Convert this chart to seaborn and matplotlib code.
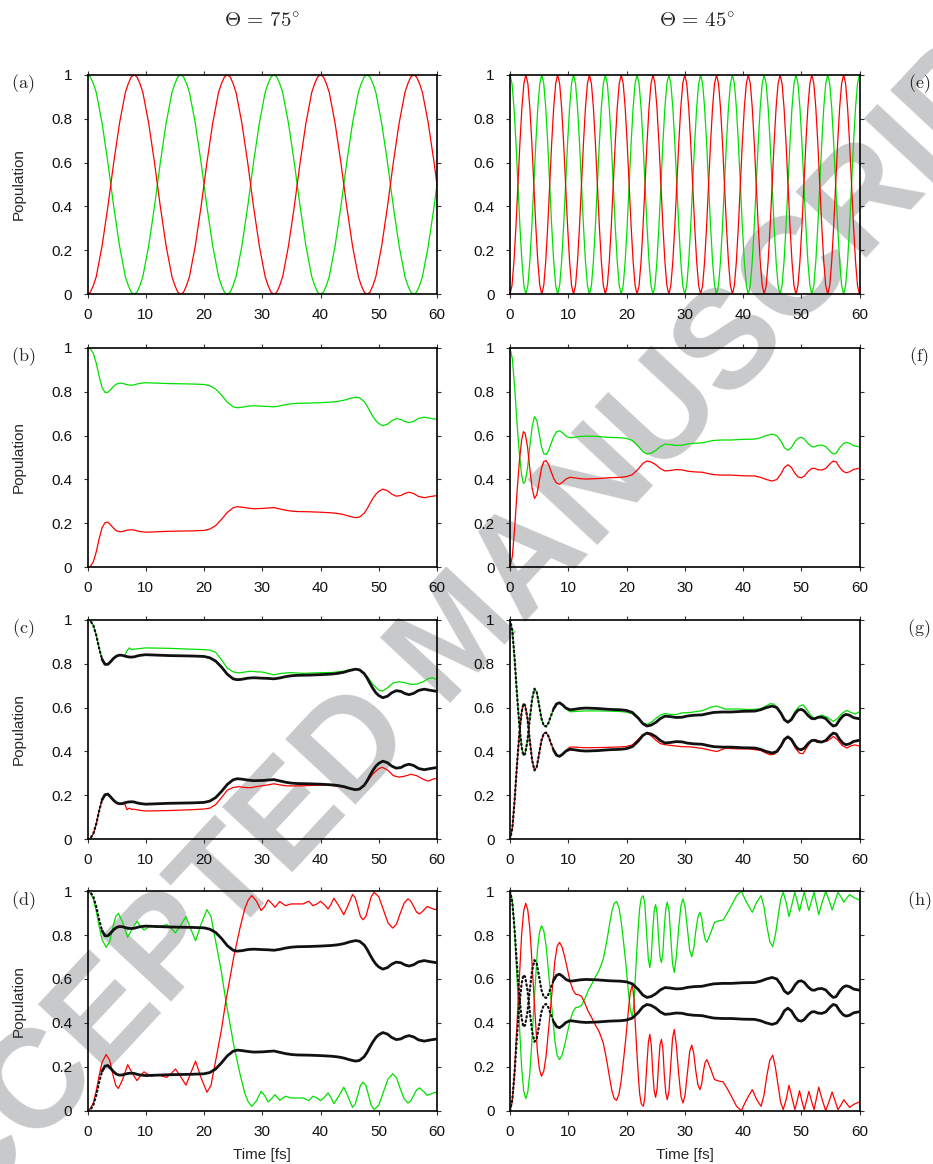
import numpy as np
import pandas as pd
import matplotlib
matplotlib.use('Agg')
import matplotlib.pyplot as plt
from matplotlib.ticker import FormatStrFormatter
import seaborn as sns

# ---------------- data ----------------
# (a) Theta = 75 deg, two-level Rabi oscillation, sampled every 0.5 fs
t_a = np.linspace(0, 60, 121)
red_a = [0.0, 0.01, 0.04, 0.08, 0.15, 0.22, 0.31, 0.4, 0.5, 0.6, 0.69, 0.78, 0.85, 0.92, 0.96, 0.99,
         1.0, 0.99, 0.96, 0.92, 0.85, 0.78, 0.69, 0.6, 0.5, 0.4, 0.31, 0.22, 0.15, 0.08, 0.04, 0.01,
         0.0, 0.01, 0.04, 0.08, 0.15, 0.22, 0.31, 0.4, 0.5, 0.6, 0.69, 0.78, 0.85, 0.92, 0.96, 0.99,
         1.0, 0.99, 0.96, 0.92, 0.85, 0.78, 0.69, 0.6, 0.5, 0.4, 0.31, 0.22, 0.15, 0.08, 0.04, 0.01,
         0.0, 0.01, 0.04, 0.08, 0.15, 0.22, 0.31, 0.4, 0.5, 0.6, 0.69, 0.78, 0.85, 0.92, 0.96, 0.99,
         1.0, 0.99, 0.96, 0.92, 0.85, 0.78, 0.69, 0.6, 0.5, 0.4, 0.31, 0.22, 0.15, 0.08, 0.04, 0.01,
         0.0, 0.01, 0.04, 0.08, 0.15, 0.22, 0.31, 0.4, 0.5, 0.6, 0.69, 0.78, 0.85, 0.92, 0.96, 0.99,
         1.0, 0.99, 0.96, 0.92, 0.85, 0.78, 0.69, 0.6, 0.5]
green_a = [1.0, 0.99, 0.96, 0.92, 0.85, 0.78, 0.69, 0.6, 0.5, 0.4, 0.31, 0.22, 0.15, 0.08, 0.04, 0.01,
           0.0, 0.01, 0.04, 0.08, 0.15, 0.22, 0.31, 0.4, 0.5, 0.6, 0.69, 0.78, 0.85, 0.92, 0.96, 0.99,
           1.0, 0.99, 0.96, 0.92, 0.85, 0.78, 0.69, 0.6, 0.5, 0.4, 0.31, 0.22, 0.15, 0.08, 0.04, 0.01,
           0.0, 0.01, 0.04, 0.08, 0.15, 0.22, 0.31, 0.4, 0.5, 0.6, 0.69, 0.78, 0.85, 0.92, 0.96, 0.99,
           1.0, 0.99, 0.96, 0.92, 0.85, 0.78, 0.69, 0.6, 0.5, 0.4, 0.31, 0.22, 0.15, 0.08, 0.04, 0.01,
           0.0, 0.01, 0.04, 0.08, 0.15, 0.22, 0.31, 0.4, 0.5, 0.6, 0.69, 0.78, 0.85, 0.92, 0.96, 0.99,
           1.0, 0.99, 0.96, 0.92, 0.85, 0.78, 0.69, 0.6, 0.5, 0.4, 0.31, 0.22, 0.15, 0.08, 0.04, 0.01,
           0.0, 0.01, 0.04, 0.08, 0.15, 0.22, 0.31, 0.4, 0.5]

# (e) Theta = 45 deg, faster Rabi oscillation (11 periods in 60 fs)
t_e = np.linspace(0, 60, 177)
red_e = [0.0, 0.04, 0.15, 0.31, 0.5, 0.69, 0.85, 0.96, 1.0, 0.96, 0.85, 0.69, 0.5, 0.31, 0.15, 0.04,
         0.0, 0.04, 0.15, 0.31, 0.5, 0.69, 0.85, 0.96, 1.0, 0.96, 0.85, 0.69, 0.5, 0.31, 0.15, 0.04,
         0.0, 0.04, 0.15, 0.31, 0.5, 0.69, 0.85, 0.96, 1.0, 0.96, 0.85, 0.69, 0.5, 0.31, 0.15, 0.04,
         0.0, 0.04, 0.15, 0.31, 0.5, 0.69, 0.85, 0.96, 1.0, 0.96, 0.85, 0.69, 0.5, 0.31, 0.15, 0.04,
         0.0, 0.04, 0.15, 0.31, 0.5, 0.69, 0.85, 0.96, 1.0, 0.96, 0.85, 0.69, 0.5, 0.31, 0.15, 0.04,
         0.0, 0.04, 0.15, 0.31, 0.5, 0.69, 0.85, 0.96, 1.0, 0.96, 0.85, 0.69, 0.5, 0.31, 0.15, 0.04,
         0.0, 0.04, 0.15, 0.31, 0.5, 0.69, 0.85, 0.96, 1.0, 0.96, 0.85, 0.69, 0.5, 0.31, 0.15, 0.04,
         0.0, 0.04, 0.15, 0.31, 0.5, 0.69, 0.85, 0.96, 1.0, 0.96, 0.85, 0.69, 0.5, 0.31, 0.15, 0.04,
         0.0, 0.04, 0.15, 0.31, 0.5, 0.69, 0.85, 0.96, 1.0, 0.96, 0.85, 0.69, 0.5, 0.31, 0.15, 0.04,
         0.0, 0.04, 0.15, 0.31, 0.5, 0.69, 0.85, 0.96, 1.0, 0.96, 0.85, 0.69, 0.5, 0.31, 0.15, 0.04,
         0.0, 0.04, 0.15, 0.31, 0.5, 0.69, 0.85, 0.96, 1.0, 0.96, 0.85, 0.69, 0.5, 0.31, 0.15, 0.04,
         0.0]
green_e = [1.0, 0.96, 0.85, 0.69, 0.5, 0.31, 0.15, 0.04, 0.0, 0.04, 0.15, 0.31, 0.5, 0.69, 0.85, 0.96,
           1.0, 0.96, 0.85, 0.69, 0.5, 0.31, 0.15, 0.04, 0.0, 0.04, 0.15, 0.31, 0.5, 0.69, 0.85, 0.96,
           1.0, 0.96, 0.85, 0.69, 0.5, 0.31, 0.15, 0.04, 0.0, 0.04, 0.15, 0.31, 0.5, 0.69, 0.85, 0.96,
           1.0, 0.96, 0.85, 0.69, 0.5, 0.31, 0.15, 0.04, 0.0, 0.04, 0.15, 0.31, 0.5, 0.69, 0.85, 0.96,
           1.0, 0.96, 0.85, 0.69, 0.5, 0.31, 0.15, 0.04, 0.0, 0.04, 0.15, 0.31, 0.5, 0.69, 0.85, 0.96,
           1.0, 0.96, 0.85, 0.69, 0.5, 0.31, 0.15, 0.04, 0.0, 0.04, 0.15, 0.31, 0.5, 0.69, 0.85, 0.96,
           1.0, 0.96, 0.85, 0.69, 0.5, 0.31, 0.15, 0.04, 0.0, 0.04, 0.15, 0.31, 0.5, 0.69, 0.85, 0.96,
           1.0, 0.96, 0.85, 0.69, 0.5, 0.31, 0.15, 0.04, 0.0, 0.04, 0.15, 0.31, 0.5, 0.69, 0.85, 0.96,
           1.0, 0.96, 0.85, 0.69, 0.5, 0.31, 0.15, 0.04, 0.0, 0.04, 0.15, 0.31, 0.5, 0.69, 0.85, 0.96,
           1.0, 0.96, 0.85, 0.69, 0.5, 0.31, 0.15, 0.04, 0.0, 0.04, 0.15, 0.31, 0.5, 0.69, 0.85, 0.96,
           1.0, 0.96, 0.85, 0.69, 0.5, 0.31, 0.15, 0.04, 0.0, 0.04, 0.15, 0.31, 0.5, 0.69, 0.85, 0.96,
           1.0]

# (b) Theta = 75 deg, exact result (also the black curves of c and d)
t_b = [0, 0.5, 1, 1.5, 2, 2.5, 3, 3.5, 4, 4.5, 5, 5.5, 6, 6.5, 7, 7.5, 8, 8.5, 9, 10,
       12, 14, 16, 18, 20, 21, 22, 23, 24, 25, 25.7, 26.5, 27.5, 28.5, 30, 31, 32, 33, 34, 35,
       36, 38, 40, 42, 43, 44, 45, 46, 46.7, 47.5, 48, 48.5, 49, 49.5, 50, 50.7, 51.5, 52.2, 53, 53.8,
       54.5, 55.2, 56, 56.8, 57.8, 58.8, 60]
green_b = [1.0, 0.995, 0.975, 0.93, 0.87, 0.82, 0.797, 0.797, 0.81, 0.825,
           0.835, 0.839, 0.838, 0.834, 0.831, 0.83, 0.831, 0.835, 0.838, 0.841,
           0.839, 0.837, 0.836, 0.835, 0.833, 0.827, 0.812, 0.785, 0.752, 0.731,
           0.727, 0.729, 0.734, 0.736, 0.734, 0.733, 0.731, 0.735, 0.741, 0.745,
           0.747, 0.748, 0.75, 0.753, 0.756, 0.761, 0.769, 0.775, 0.772, 0.755,
           0.735, 0.71, 0.687, 0.668, 0.655, 0.645, 0.652, 0.667, 0.677, 0.674,
           0.664, 0.659, 0.665, 0.678, 0.684, 0.679, 0.674]
red_b = [0.0, 0.005, 0.025, 0.07, 0.13, 0.18, 0.203, 0.206, 0.192, 0.177,
         0.166, 0.162, 0.163, 0.167, 0.17, 0.171, 0.17, 0.166, 0.163, 0.16,
         0.162, 0.164, 0.165, 0.166, 0.168, 0.174, 0.19, 0.218, 0.25, 0.271,
         0.276, 0.274, 0.27, 0.267, 0.268, 0.27, 0.272, 0.266, 0.26, 0.256,
         0.254, 0.253, 0.251, 0.248, 0.245, 0.24, 0.232, 0.226, 0.229, 0.246,
         0.266, 0.291, 0.314, 0.333, 0.346, 0.356, 0.349, 0.334, 0.324, 0.327,
         0.337, 0.342, 0.336, 0.323, 0.317, 0.322, 0.327]

# (f) Theta = 45 deg, exact result (also the black curves of g and h)
t_f = [0, 0.4, 0.8, 1.2, 1.6, 2.0, 2.3, 2.6, 3.0, 3.4,
       3.8, 4.2, 4.6, 5.0, 5.4, 5.8, 6.2, 6.6, 7.0, 7.5,
       8.0, 8.5, 9.0, 9.6, 10.3, 11, 12, 13, 15, 17,
       19, 20, 21, 22, 22.8, 23.5, 24.2, 25, 25.8, 26.6,
       27.5, 28.5, 29.5, 30.5, 31.5, 33, 34, 35, 36.5, 38,
       40, 42, 43, 44, 45, 45.8, 46.5, 47.1, 47.7, 48.3,
       49, 49.5, 50, 50.5, 51.2, 51.8, 52.3, 52.8, 53.5, 54.2,
       55, 55.5, 56, 56.6, 57.2, 57.7, 58.3, 59, 60]
green_f = [1.0, 0.95, 0.82, 0.66, 0.52, 0.42, 0.382, 0.39, 0.45, 0.55,
           0.64, 0.686, 0.67, 0.61, 0.55, 0.518, 0.514, 0.53, 0.56, 0.595,
           0.617, 0.622, 0.613, 0.598, 0.59, 0.592, 0.596, 0.598, 0.596, 0.592,
           0.59, 0.587, 0.578, 0.553, 0.527, 0.516, 0.52, 0.532, 0.55, 0.561,
           0.559, 0.555, 0.556, 0.562, 0.565, 0.567, 0.573, 0.578, 0.58, 0.58,
           0.583, 0.584, 0.59, 0.6, 0.607, 0.6, 0.575, 0.545, 0.533, 0.545,
           0.575, 0.589, 0.592, 0.585, 0.563, 0.55, 0.549, 0.555, 0.557, 0.55,
           0.527, 0.516, 0.52, 0.545, 0.563, 0.569, 0.565, 0.554, 0.549]
red_f = [0.0, 0.05, 0.18, 0.34, 0.48, 0.58, 0.618, 0.61, 0.55, 0.45,
         0.36, 0.314, 0.33, 0.39, 0.45, 0.482, 0.486, 0.47, 0.44, 0.405,
         0.383, 0.378, 0.387, 0.402, 0.41, 0.408, 0.404, 0.402, 0.404, 0.408,
         0.41, 0.413, 0.422, 0.447, 0.473, 0.484, 0.48, 0.468, 0.45, 0.439,
         0.441, 0.445, 0.444, 0.438, 0.435, 0.433, 0.427, 0.422, 0.42, 0.42,
         0.417, 0.416, 0.41, 0.4, 0.393, 0.4, 0.425, 0.455, 0.467, 0.455,
         0.425, 0.411, 0.408, 0.415, 0.437, 0.45, 0.451, 0.445, 0.443, 0.45,
         0.473, 0.484, 0.48, 0.455, 0.437, 0.431, 0.435, 0.446, 0.451]

# (c) Theta = 75 deg, approximate method 1
t_c = [0, 0.5, 1, 1.5, 2, 2.5, 3, 3.5, 4, 4.5,
       5, 5.5, 6, 6.4, 6.8, 7.2, 7.6, 8, 9, 10,
       12, 14, 16, 18, 20, 21, 22, 23, 24, 25,
       26, 27, 28, 29, 30, 31, 32, 33, 34, 35,
       37, 40, 42, 44, 45, 46, 47, 48, 49, 50,
       50.6, 51.5, 52.5, 53.5, 54.5, 55.5, 56.5, 57.5, 58.5, 59.3, 60]
green_c = [1.0, 0.995, 0.975, 0.93, 0.87, 0.82, 0.797, 0.797, 0.81, 0.825,
           0.835, 0.839, 0.838, 0.836, 0.86, 0.872, 0.864, 0.866, 0.869, 0.872,
           0.871, 0.87, 0.868, 0.866, 0.864, 0.862, 0.852, 0.818, 0.78, 0.763,
           0.758, 0.762, 0.766, 0.763, 0.762, 0.756, 0.749, 0.755, 0.758, 0.759,
           0.756, 0.759, 0.76, 0.766, 0.773, 0.776, 0.768, 0.742, 0.705, 0.68,
           0.675, 0.69, 0.713, 0.718, 0.713, 0.706, 0.707, 0.716, 0.732, 0.736, 0.727]
red_c = [0.0, 0.005, 0.025, 0.07, 0.13, 0.18, 0.203, 0.206, 0.192, 0.177,
         0.166, 0.162, 0.162, 0.16, 0.135, 0.142, 0.136, 0.137, 0.132, 0.129,
         0.13, 0.131, 0.133, 0.135, 0.138, 0.142, 0.158, 0.19, 0.224, 0.236,
         0.24, 0.236, 0.235, 0.24, 0.244, 0.248, 0.253, 0.248, 0.244, 0.243,
         0.244, 0.247, 0.245, 0.238, 0.232, 0.225, 0.235, 0.262, 0.298, 0.322,
         0.328, 0.316, 0.29, 0.283, 0.288, 0.296, 0.29, 0.275, 0.265, 0.274, 0.278]

# (d) Theta = 75 deg, approximate method 2
t_d = [0, 0.5, 1, 1.5, 2, 2.5, 3.2, 3.8, 4.4, 4.85,
       5.3, 6.0, 6.9, 7.7, 8.5, 9.1, 9.7, 10.4, 11.0, 11.9,
       12.8, 13.6, 14.4, 15.1, 16.0, 16.9, 17.7, 18.55, 19.5, 20.5,
       21.2, 21.8, 22.2, 23, 23.75, 24.5, 25.1, 26.2, 27, 27.6,
       28.2, 29, 29.8, 30.4, 31, 31.6, 32.2, 32.6, 33, 34,
       35, 37, 38, 38.7, 39.4, 40, 40.7, 41.3, 41.8, 42.3,
       43.1, 44, 44.8, 45.5, 45.95, 46.4, 46.85, 47.3, 47.8, 48.25,
       48.7, 49.2, 50.0, 50.8, 51.6, 52.4, 53.05, 53.7, 54.35, 55,
       55.5, 56, 56.5, 57, 57.6, 58.3, 59, 59.7, 60]
green_d = [1.0, 0.99, 0.965, 0.91, 0.84, 0.78, 0.744, 0.77, 0.84, 0.885,
           0.899, 0.86, 0.79, 0.83, 0.863, 0.84, 0.823, 0.835, 0.843, 0.835,
           0.842, 0.848, 0.83, 0.81, 0.845, 0.884, 0.83, 0.774, 0.85, 0.916,
           0.885, 0.8, 0.744, 0.63, 0.5, 0.39, 0.3, 0.165, 0.08, 0.04,
           0.02, 0.045, 0.088, 0.07, 0.04, 0.055, 0.073, 0.06, 0.047, 0.066,
           0.058, 0.058, 0.046, 0.066, 0.058, 0.046, 0.062, 0.081, 0.06, 0.032,
           0.065, 0.107, 0.06, 0.015, 0.03, 0.07, 0.115, 0.13, 0.115, 0.07,
           0.025, 0.005, 0.025, 0.085, 0.145, 0.168, 0.15, 0.1, 0.055, 0.035,
           0.045, 0.07, 0.095, 0.104, 0.09, 0.07, 0.077, 0.084, 0.081]
red_d = [0.0, 0.01, 0.035, 0.09, 0.16, 0.22, 0.256, 0.23, 0.16, 0.115,
         0.101, 0.14, 0.21, 0.17, 0.137, 0.16, 0.177, 0.165, 0.157, 0.165,
         0.158, 0.152, 0.17, 0.19, 0.155, 0.116, 0.17, 0.226, 0.15, 0.084,
         0.115, 0.2, 0.256, 0.37, 0.5, 0.61, 0.7, 0.835, 0.92, 0.96,
         0.98, 0.955, 0.912, 0.93, 0.96, 0.945, 0.927, 0.94, 0.953, 0.934,
         0.942, 0.942, 0.954, 0.934, 0.942, 0.954, 0.938, 0.919, 0.94, 0.968,
         0.935, 0.893, 0.94, 0.985, 0.97, 0.93, 0.885, 0.87, 0.885, 0.93,
         0.975, 0.995, 0.975, 0.915, 0.855, 0.832, 0.85, 0.9, 0.945, 0.965,
         0.955, 0.93, 0.905, 0.896, 0.91, 0.93, 0.923, 0.916, 0.919]

# (g) Theta = 45 deg, approximate method 1
t_g = [0, 0.4, 0.8, 1.2, 1.6, 2.0, 2.3, 2.6, 3.0, 3.4,
       3.8, 4.2, 4.6, 5.0, 5.4, 5.8, 6.2, 6.6, 7.0, 7.5,
       8.0, 8.5, 9.0, 9.6, 10.3, 11, 13, 15, 17, 19,
       20, 21, 22, 22.8, 23.5, 24.2, 25, 25.8, 26.6, 27.5,
       28.5, 29.5, 31, 33, 34.5, 35.5, 37, 39, 41, 43,
       44, 44.7, 45.3, 46, 46.6, 47.2, 47.7, 48.3, 49, 49.7,
       50.3, 51, 51.6, 52.3, 52.9, 53.5, 54.5, 55.5, 56.2, 57,
       57.8, 58.5, 59.2, 60]
green_g = [1.0, 0.95, 0.82, 0.66, 0.52, 0.42, 0.382, 0.39, 0.45, 0.55,
           0.64, 0.686, 0.67, 0.61, 0.55, 0.518, 0.514, 0.53, 0.56, 0.595,
           0.617, 0.622, 0.613, 0.595, 0.581, 0.582, 0.585, 0.585, 0.584, 0.582,
           0.579, 0.572, 0.55, 0.53, 0.524, 0.532, 0.55, 0.566, 0.573, 0.569,
           0.568, 0.576, 0.578, 0.586, 0.602, 0.607, 0.593, 0.594, 0.591, 0.594,
           0.608, 0.618, 0.616, 0.598, 0.572, 0.545, 0.535, 0.552, 0.585, 0.607,
           0.613, 0.59, 0.565, 0.55, 0.56, 0.566, 0.556, 0.537, 0.55, 0.574,
           0.587, 0.578, 0.571, 0.58]
red_g = [0.0, 0.05, 0.18, 0.34, 0.48, 0.58, 0.618, 0.61, 0.55, 0.45,
         0.36, 0.314, 0.33, 0.39, 0.45, 0.482, 0.486, 0.47, 0.44, 0.405,
         0.383, 0.378, 0.387, 0.405, 0.42, 0.42, 0.417, 0.418, 0.419, 0.421,
         0.423, 0.43, 0.455, 0.476, 0.482, 0.472, 0.453, 0.436, 0.431, 0.428,
         0.425, 0.422, 0.421, 0.414, 0.405, 0.4, 0.415, 0.412, 0.412, 0.405,
         0.392, 0.385, 0.387, 0.4, 0.425, 0.452, 0.465, 0.45, 0.415, 0.392,
         0.39, 0.42, 0.445, 0.455, 0.45, 0.443, 0.448, 0.468, 0.455, 0.428,
         0.416, 0.425, 0.43, 0.425]

# (h) Theta = 45 deg, approximate method 2
t_h = [0, 0.35, 0.7, 1.0, 1.35, 1.7, 2.0, 2.35, 2.7, 3.05,
       3.4, 3.7, 4.05, 4.4, 4.7, 5.05, 5.4, 5.8, 6.2, 6.55,
       6.95, 7.35, 7.7, 8.1, 8.5, 8.95, 9.4, 9.85, 10.3, 10.8,
       11.3, 11.8, 12.3, 12.85, 13.4, 14, 14.6, 15.3, 16, 16.6,
       17.1, 17.5, 17.9, 18.3, 18.7, 19.05, 19.4, 19.85, 20.3, 20.65,
       21, 21.25, 21.5, 21.75, 22, 22.25, 22.5, 22.7, 22.9, 23.15,
       23.45, 23.75, 24, 24.25, 24.5, 24.75, 25, 25.25, 25.5, 25.75,
       26, 26.25, 26.5, 26.75, 27, 27.3, 27.6, 27.9, 28.2, 28.55,
       28.95, 29.35, 29.7, 30.05, 30.45, 30.85, 31.2, 31.55, 31.9, 32.25,
       32.6, 32.9, 33.2, 33.5, 33.8, 34.45, 35.1, 35.85, 36.6, 37.3,
       38, 38.9, 39.7, 40.6, 41.6, 42.35, 43.1, 43.6, 44.1, 44.6,
       45.1, 45.55, 46, 46.45, 46.9, 47.4, 47.9, 48.4, 48.9, 49.3,
       49.7, 50.1, 50.5, 50.9, 51.3, 51.75, 52.2, 52.6, 53, 53.6,
       54.2, 54.75, 55.3, 55.8, 56.3, 56.8, 57.3, 57.8, 58.3, 59.1, 60]
green_h = [1.0, 0.964, 0.862, 0.71, 0.527, 0.347, 0.195, 0.09, 0.055, 0.085,
           0.17, 0.29, 0.45, 0.6, 0.73, 0.81, 0.843, 0.82, 0.75, 0.65,
           0.54, 0.42, 0.32, 0.25, 0.233, 0.255, 0.3, 0.355, 0.409, 0.45,
           0.47, 0.472, 0.48, 0.51, 0.546, 0.575, 0.607, 0.64, 0.69, 0.77,
           0.85, 0.91, 0.945, 0.953, 0.925, 0.87, 0.79, 0.68, 0.55, 0.46,
           0.427, 0.48, 0.6, 0.72, 0.83, 0.92, 0.965, 0.975, 0.979, 0.94,
           0.81, 0.69, 0.652, 0.7, 0.82, 0.91, 0.939, 0.9, 0.79, 0.7,
           0.675, 0.72, 0.84, 0.92, 0.95, 0.91, 0.79, 0.67, 0.63, 0.7,
           0.83, 0.935, 0.965, 0.93, 0.83, 0.73, 0.701, 0.74, 0.82, 0.88,
           0.904, 0.88, 0.82, 0.78, 0.767, 0.81, 0.858, 0.865, 0.869, 0.9,
           0.934, 0.98, 1.0, 0.95, 0.904, 0.95, 0.98, 0.93, 0.84, 0.77,
           0.747, 0.8, 0.881, 0.96, 0.995, 0.95, 0.884, 0.94, 0.995, 0.955,
           0.909, 0.955, 0.995, 0.955, 0.912, 0.955, 0.995, 0.945, 0.893, 0.95,
           1.0, 0.96, 0.915, 0.955, 0.995, 0.975, 0.95, 0.968, 0.985, 0.97, 0.96]
red_h = [0.0, 0.036, 0.138, 0.29, 0.473, 0.653, 0.805, 0.91, 0.945, 0.915,
         0.83, 0.71, 0.55, 0.4, 0.27, 0.19, 0.157, 0.18, 0.25, 0.35,
         0.46, 0.58, 0.68, 0.75, 0.767, 0.745, 0.7, 0.645, 0.591, 0.55,
         0.53, 0.528, 0.52, 0.49, 0.454, 0.425, 0.393, 0.36, 0.31, 0.23,
         0.15, 0.09, 0.055, 0.047, 0.075, 0.13, 0.21, 0.32, 0.45, 0.54,
         0.573, 0.52, 0.4, 0.28, 0.17, 0.08, 0.035, 0.025, 0.021, 0.06,
         0.19, 0.31, 0.348, 0.3, 0.18, 0.09, 0.061, 0.1, 0.21, 0.3,
         0.325, 0.28, 0.16, 0.08, 0.05, 0.09, 0.21, 0.33, 0.37, 0.3,
         0.17, 0.065, 0.035, 0.07, 0.17, 0.27, 0.299, 0.26, 0.18, 0.12,
         0.096, 0.12, 0.18, 0.22, 0.233, 0.19, 0.142, 0.135, 0.131, 0.1,
         0.066, 0.02, 0.0, 0.05, 0.096, 0.05, 0.02, 0.07, 0.16, 0.23,
         0.253, 0.2, 0.119, 0.04, 0.005, 0.05, 0.116, 0.06, 0.005, 0.045,
         0.091, 0.045, 0.005, 0.045, 0.088, 0.045, 0.005, 0.055, 0.107, 0.05,
         0.0, 0.04, 0.085, 0.045, 0.005, 0.025, 0.05, 0.032, 0.015, 0.03, 0.04]

x_ticks = [0, 10, 20, 30, 40, 50, 60]
y_ticks = [0, 0.2, 0.4, 0.6, 0.8, 1.0]
col_titles = [r'$\Theta\,=\,75^{\!\circ}$', r'$\Theta\,=\,45^{\!\circ}$']
panel_names = ['a', 'b', 'c', 'd', 'e', 'f', 'g', 'h']

# ---------------- style ----------------
sns.set_theme(style='ticks')
plt.rcParams['font.family'] = ['Liberation Sans', 'DejaVu Sans']
plt.rcParams['mathtext.fontset'] = 'cm'

RED = '#ff0000'
GREEN = '#00e000'
BLACK = '#111111'

W, H = 933, 1164
fig = plt.figure(figsize=(W / 100, H / 100), dpi=100)
fig.patch.set_facecolor('white')

# watermark behind everything
fig.text(460 / W, 1 - 640 / H, 'ACCEPTED MANUSCRIPT', rotation=47, rotation_mode='anchor',
         ha='center', va='center', fontsize=100, fontweight='bold',
         color='#c8c9cb', zorder=-1)

col_left = [87.5, 510]
ax_w = 349.5
ax_h = 219.5
row_bottom = [294.3, 567.3, 839.3, 1110.7]

panels = {
    'a': ([(t_a, green_a, GREEN), (t_a, red_a, RED)], []),
    'b': ([(t_b, green_b, GREEN), (t_b, red_b, RED)], []),
    'c': ([(t_c, green_c, GREEN), (t_c, red_c, RED)], [(t_b, green_b), (t_b, red_b)]),
    'd': ([(t_d, green_d, GREEN), (t_d, red_d, RED)], [(t_b, green_b), (t_b, red_b)]),
    'e': ([(t_e, green_e, GREEN), (t_e, red_e, RED)], []),
    'f': ([(t_f, green_f, GREEN), (t_f, red_f, RED)], []),
    'g': ([(t_g, green_g, GREEN), (t_g, red_g, RED)], [(t_f, green_f), (t_f, red_f)]),
    'h': ([(t_h, green_h, GREEN), (t_h, red_h, RED)], [(t_f, green_f), (t_f, red_f)]),
}

for i, name in enumerate(panel_names):
    col, row = i // 4, i % 4
    x0 = col_left[col]
    y0 = row_bottom[row]
    ax = fig.add_axes([x0 / W, 1 - y0 / H, ax_w / W, ax_h / H])
    ax.set_facecolor('none')

    coloured, black = panels[name]
    for t, y, c in coloured:
        sns.lineplot(x=t, y=y, ax=ax, color=c, linewidth=0.9, estimator=None, sort=False, zorder=2)

    # black reference curves: dotted where they change fast, solid elsewhere
    t_dot = 2.6 if col == 0 else 7.6
    for t, y in black:
        df = pd.DataFrame({'t': t, 'y': y})
        early = df[df['t'] <= t_dot]
        late = df[df['t'] >= df.loc[df['t'] <= t_dot, 't'].max()]
        sns.lineplot(data=early, x='t', y='y', ax=ax, color=BLACK, linewidth=1.6,
                     linestyle=(0, (0.6, 1.4)), dash_capstyle='round',
                     estimator=None, sort=False, zorder=3)
        sns.lineplot(data=late, x='t', y='y', ax=ax, color=BLACK, linewidth=2.0,
                     estimator=None, sort=False, zorder=3)

    ax.set_xlim(0, 60)
    ax.set_ylim(0, 1)
    ax.set_xticks(x_ticks)
    ax.set_yticks(y_ticks)
    ax.yaxis.set_major_formatter(FormatStrFormatter('%g'))
    ax.tick_params(direction='out', length=3, width=0.8, color='#333333',
                   top=True, right=True, labelsize=11, labelcolor='#111111')
    ax.tick_params(axis='x', pad=7)
    ax.tick_params(axis='y', pad=8)
    for sp in ax.spines.values():
        sp.set_visible(True)
        sp.set_linewidth(1.2)
        sp.set_color('black')

    if col == 0:
        ax.set_ylabel('Population', fontsize=11)
        ax.yaxis.set_label_coords(-0.176, 0.5)
    else:
        ax.set_ylabel('')
    if row == 3:
        ax.set_xlabel('Time [fs]', fontsize=11)
        ax.xaxis.set_label_coords(0.5, -0.17)
    else:
        ax.set_xlabel('')

    # panel letter
    lx = 23 if col == 0 else 919
    ly = H - y0 + ax_h - 9
    fig.text(lx / W, ly / H, r'$\mathrm{(' + name + ')}$', ha='center', va='center', fontsize=13)

fig.text(262 / W, 1 - 22 / H, col_titles[0], ha='center', va='center', fontsize=15)
fig.text(697 / W, 1 - 22 / H, col_titles[1], ha='center', va='center', fontsize=15)

fig.savefig('out.png', dpi=100)
